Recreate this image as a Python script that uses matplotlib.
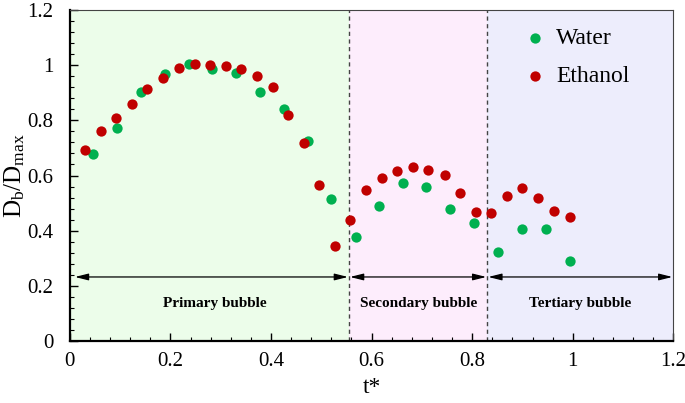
import matplotlib.pyplot as plt
from matplotlib.ticker import MultipleLocator

plt.rcParams['font.family'] = ['Liberation Serif', 'DejaVu Serif']
plt.rcParams['mathtext.fontset'] = 'custom'
plt.rcParams['mathtext.rm'] = 'Liberation Serif'
plt.rcParams['mathtext.it'] = 'Liberation Serif'

# water
tw = [0.046, 0.094, 0.141, 0.189, 0.236, 0.283, 0.331, 0.378, 0.425, 0.473, 0.520,
      0.568, 0.615, 0.662, 0.709, 0.756, 0.804,
      0.851, 0.899, 0.947, 0.994]
dw = [0.679, 0.771, 0.903, 0.968, 1.005, 0.988, 0.971, 0.903, 0.841, 0.726, 0.514,
      0.376, 0.491, 0.572, 0.560, 0.479, 0.428,
      0.324, 0.405, 0.405, 0.291]

# ethanol
te = [0.030, 0.061, 0.092, 0.123, 0.154, 0.185, 0.217, 0.248, 0.279, 0.310, 0.341,
      0.372, 0.403, 0.434, 0.465, 0.496, 0.527,
      0.558, 0.589, 0.620, 0.651, 0.683, 0.713, 0.745, 0.776, 0.807,
      0.838, 0.869, 0.900, 0.931, 0.962, 0.994]
de = [0.693, 0.761, 0.807, 0.861, 0.912, 0.955, 0.991, 1.004, 1.002, 0.998, 0.988,
      0.961, 0.920, 0.821, 0.717, 0.564, 0.346,
      0.439, 0.549, 0.591, 0.618, 0.632, 0.621, 0.602, 0.535, 0.467,
      0.463, 0.526, 0.553, 0.517, 0.471, 0.448]

# stage boundaries and names
bounds = [0.0, 0.555, 0.83, 1.2]
stages = ['Primary bubble', 'Secondary bubble', 'Tertiary bubble']
bg = ['#ecfdea', '#fdedfc', '#ededfc']
ticks = [0, 0.2, 0.4, 0.6, 0.8, 1.0, 1.2]
ticklabels = ['0', '0.2', '0.4', '0.6', '0.8', '1', '1.2']

fig = plt.figure(figsize=(6.85, 4.03), dpi=100)
ax = fig.add_axes([0.102, 0.154, 0.881, 0.821])

for i in range(3):
    ax.axvspan(bounds[i], bounds[i + 1], color=bg[i], zorder=0, lw=0)
    ax.annotate('', xy=(bounds[i] + (0.01 if i == 0 else 0.002), 0.232),
                xytext=(bounds[i + 1] - 0.002, 0.232),
                arrowprops=dict(arrowstyle='<|-|>,head_length=0.8,head_width=0.2',
                                color='black', lw=0.9, shrinkA=0, shrinkB=0))
    ax.text((bounds[i] + bounds[i + 1]) / 2 + (0.01 if i == 0 else 0), 0.134, stages[i],
            ha='center', va='center', fontsize=11, fontweight='bold')

for b in bounds[1:3]:
    ax.axvline(b, color='#444444', ls=(0, (3, 2.5)), lw=1, zorder=1)

ax.scatter(tw, dw, s=55, color='#00b050', lw=0, zorder=3, label='Water')
ax.scatter(te, de, s=55, color='#c00000', lw=0, zorder=4, label='Ethanol')

ax.set_xlim(0, 1.2)
ax.set_ylim(0, 1.2)
ax.set_xticks(ticks)
ax.set_yticks(ticks)
ax.set_xticklabels(ticklabels)
ax.set_yticklabels(ticklabels)
ax.xaxis.set_minor_locator(MultipleLocator(0.04))
ax.yaxis.set_minor_locator(MultipleLocator(0.04))
ax.tick_params(which='major', direction='in', length=6, width=1, labelsize=15,
               pad=8, top=False, right=False)
ax.tick_params(which='minor', direction='in', length=3, width=0.8, top=False, right=False)
ax.tick_params(axis='y', pad=12)

for s in ['left', 'bottom']:
    ax.spines[s].set_linewidth(1.6)
for s in ['top', 'right']:
    ax.spines[s].set_linewidth(0.8)
    ax.spines[s].set_color('#444444')

ax.set_xlabel('t*', fontsize=17, labelpad=4)
ax.set_ylabel(r'D$_\mathrm{b}$/D$_\mathrm{max}$', fontsize=18, labelpad=0)

ax.legend(loc='upper left', bbox_to_anchor=(0.712, 1.012), frameon=False,
          fontsize=17, handletextpad=0.3, labelspacing=0.7, markerscale=1.0,
          handlelength=1.2)

fig.savefig('out.png', dpi=100)
